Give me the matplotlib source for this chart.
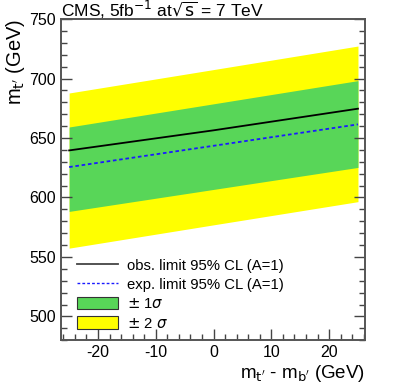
import numpy as np
import matplotlib.pyplot as plt
from matplotlib.patches import Patch
from matplotlib.lines import Line2D
from matplotlib.ticker import MultipleLocator

plt.rcParams['font.family'] = ['Liberation Sans', 'DejaVu Sans']
plt.rcParams['axes.unicode_minus'] = False

# ── Data ──────────────────────────────────────────────────────────────────
dm        = [-25, 0, 25]          # m_t' - m_b' (GeV)
obs       = [639.6, 656.5, 674.7]
exp       = [625.6, 643.5, 661.5]
sig1_lo   = [588.3, 606.8, 625.3]
sig1_hi   = [659.3, 678.8, 698.3]
sig2_lo   = [557.4, 577.0, 596.5]
sig2_hi   = [687.9, 707.6, 727.4]

GREEN  = "#58D658"
YELLOW = "#FFFF00"

fig = plt.figure(figsize=(4.07, 3.91), dpi=100)
ax = fig.add_axes([0.150, 0.130, 0.748, 0.821])

ax.fill_between(dm, sig2_lo, sig2_hi, color=YELLOW, lw=0)
ax.fill_between(dm, sig1_lo, sig1_hi, color=GREEN, lw=0)
ax.plot(dm, obs, color="black", lw=1.3)
ax.plot(dm, exp, color="#1a1aff", lw=1.3, ls=(0, (2, 1.5)))

ax.set_xlim(-26.4, 26.3)
ax.set_ylim(480, 750)
ax.xaxis.set_major_locator(MultipleLocator(10))
ax.xaxis.set_minor_locator(MultipleLocator(2))
ax.yaxis.set_major_locator(MultipleLocator(50))
ax.yaxis.set_minor_locator(MultipleLocator(10))
ax.tick_params(which="both", direction="in", top=False, right=True,
               labelsize=11.5, color="#444444")
ax.tick_params(which="major", length=8, width=1)
ax.tick_params(which="minor", length=4.5, width=1)
for s in ax.spines.values():
    s.set_color("#555555")
    s.set_linewidth(1.4)

ax.set_ylabel("m$_{\\mathrm{t'}}$ (GeV)", fontsize=14.5, loc="top", labelpad=2)
ax.set_xlabel("m$_{\\mathrm{t'}}$ - m$_{\\mathrm{b'}}$ (GeV)", fontsize=13.5,
              loc="right", labelpad=2)

fig.text(61 / 407, 1 - 17 / 391,
         "CMS, 5fb$^{\\mathrm{-1}}$ at$\\sqrt{\\mathrm{s}}$ = 7 TeV",
         fontsize=12.5, ha="left", va="baseline")

handles = [
    Line2D([], [], color="#444444", lw=1.3),
    Line2D([], [], color="#1a1aff", lw=1.0, ls=(0, (2, 1.5))),
    Patch(facecolor=GREEN, edgecolor="#333333", lw=0.8),
    Patch(facecolor=YELLOW, edgecolor="#333333", lw=0.8),
]
labels = ["obs. limit 95% CL (A=1)", "exp. limit 95% CL (A=1)",
          "$\\pm$ 1$\\sigma$", "$\\pm$ 2 $\\sigma$"]
ax.legend(handles, labels, loc="lower left", bbox_to_anchor=(0.052, 0.03),
          frameon=False, fontsize=10.7, handlelength=2.8, handleheight=0.9,
          handletextpad=0.55, labelspacing=0.33, borderpad=0, borderaxespad=0)

fig.savefig("out.png", dpi=100)
